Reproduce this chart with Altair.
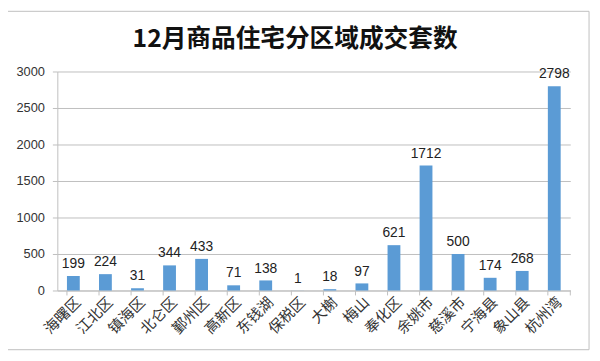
import altair as alt
import pandas as pd

districts = ["海曙区", "江北区", "镇海区", "北仑区", "鄞州区", "高新区", "东钱湖", "保税区",
             "大榭", "梅山", "奉化区", "余姚市", "慈溪市", "宁海县", "象山县", "杭州湾"]
sales = [199, 224, 31, 344, 433, 71, 138, 1, 18, 97, 621, 1712, 500, 174, 268, 2798]
title_text = ["12月商品住宅分区域成交套数"]

df = pd.DataFrame({"district": districts, "sales": sales})

FONT = "Noto Sans CJK SC"
W, H = 520, 222

xscale = alt.Scale(domain=districts, paddingInner=0.6, paddingOuter=0.3)
xaxis = alt.Axis(labelAngle=-45, labelAlign="right", labelBaseline="top",
                 labelFont=FONT, labelFontSize=15, labelColor="#333333",
                 ticks=False, domainColor="#bfbfbf", labelPadding=4, title=None)
yscale = alt.Scale(domain=[0, 3000], nice=False)
yaxis = alt.Axis(values=[0, 500, 1000, 1500, 2000, 2500, 3000], format="d",
                 labelFont="Liberation Sans", labelFontSize=13, labelColor="#333333",
                 gridColor="#bfbfbf", domainColor="#bfbfbf", tickColor="#bfbfbf",
                 tickSize=5, labelPadding=8, title=None)

xenc = alt.X("district:N", sort=districts, scale=xscale, axis=xaxis)
yenc = alt.Y("sales:Q", scale=yscale, axis=yaxis)

bars = alt.Chart(df).mark_bar(color="#5B9BD5", size=13).encode(x=xenc, y=yenc)

ticks = alt.Chart(df).mark_rule(color="#bfbfbf").encode(
    x=alt.X("district:N", sort=districts, bandPosition=0, scale=xscale, axis=xaxis),
    y=alt.value(H), y2=alt.value(H + 5))
end_tick = alt.Chart(df.head(1)).mark_rule(color="#bfbfbf").encode(
    x=alt.value(W), y=alt.value(H), y2=alt.value(H + 5))

labels = alt.Chart(df).mark_text(baseline="bottom", dy=-5, font="Liberation Sans",
                                 fontSize=14, color="#222222").encode(
    x=xenc, y=yenc, text="sales:Q")

border = alt.Chart(df.head(1)).mark_rect(fill=None, stroke="#bfbfbf", strokeWidth=1).encode(
    x=alt.value(-51), x2=alt.value(539), y=alt.value(-61), y2=alt.value(282))

title = alt.Chart(pd.DataFrame({"t": title_text})).mark_text(
    font=FONT, fontSize=25, fontWeight="bold", color="#111111",
    align="center", baseline="middle").encode(
    x=alt.value(241), y=alt.value(-33), text="t:N")

chart = alt.layer(border, bars, ticks, end_tick, labels, title).properties(
    width=W, height=H,
    autosize=alt.AutoSizeParams(type="none"),
    padding={"left": 50, "top": 62, "right": 22, "bottom": 62},
).configure_view(stroke=None)

chart.save("out.html", embed_options={"renderer": "svg", "actions": False})
